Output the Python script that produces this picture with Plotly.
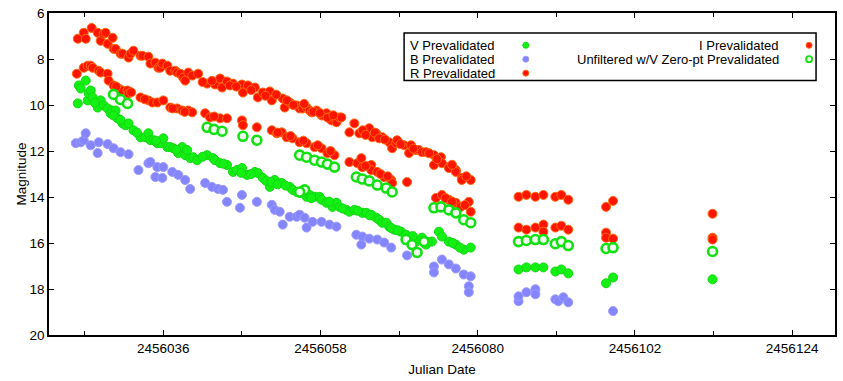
import plotly.graph_objects as go

# ---------------- data (Julian Date, magnitude) ----------------
r_jd = [2456024.03, 2456024.86, 2456025.14, 2456025.97, 2456026.81, 2456027.23, 2456027.65, 2456027.92,
        2456028.20, 2456028.90, 2456029.04, 2456029.32, 2456030.01, 2456030.29, 2456031.13, 2456031.41,
        2456031.82, 2456032.80, 2456033.08, 2456033.91, 2456034.19, 2456034.89, 2456035.30, 2456035.58,
        2456035.86, 2456036.56, 2456036.97, 2456037.67, 2456037.95, 2456038.37, 2456038.78, 2456039.06,
        2456039.48, 2456040.04, 2456040.87, 2456042.13, 2456043.24, 2456043.94, 2456044.22, 2456044.91,
        2456045.75, 2456047.00, 2456047.14, 2456047.84, 2456048.81, 2456049.23, 2456049.92, 2456050.90,
        2456051.18, 2456052.71, 2456052.99, 2456053.68, 2456054.66, 2456055.08, 2456055.49, 2456056.05,
        2456056.47, 2456056.75, 2456057.44, 2456058.14, 2456058.28, 2456058.83, 2456059.25, 2456059.53,
        2456060.23, 2456060.64, 2456060.92, 2456062.04, 2456062.73, 2456063.43, 2456064.82, 2456065.24,
        2456065.80, 2456066.63, 2456067.61, 2456068.02, 2456068.58, 2456068.72, 2456069.70, 2456070.39,
        2456070.67, 2456071.37, 2456071.78, 2456072.20, 2456072.76, 2456073.87, 2456073.87, 2456074.85,
        2456074.99, 2456075.96, 2456075.96, 2456076.94, 2456076.94, 2456077.77, 2456077.77, 2456079.02,
        2456041.50, 2456042.80, 2456045.30, 2456046.20, 2456048.30, 2456050.30, 2456051.80, 2456053.30,
        2456054.20, 2456055.70, 2456057.00, 2456057.90, 2456059.00, 2456059.80, 2456063.90, 2456064.30,
        2456065.60, 2456066.20, 2456067.00, 2456069.20, 2456071.00, 2456073.20, 2456074.30, 2456076.40,
        2456078.40,
        2456085.71, 2456086.81, 2456088.07, 2456089.19, 2456090.86, 2456091.70, 2456092.67, 2456097.96,
        2456098.94, 2456112.86]
r_mag = [7.12, 6.86, 7.12, 6.65, 6.86, 7.21, 6.91, 6.86,
         7.34, 7.08, 7.56, 7.56, 7.77, 7.77, 7.94, 7.77,
         7.64, 7.86, 7.86, 7.90, 8.20, 8.16, 8.38, 8.38,
         8.20, 8.29, 8.51, 8.51, 8.59, 8.64, 8.81, 8.94,
         8.59, 8.72, 8.64, 9.07, 9.11, 8.85, 9.24, 8.98,
         9.07, 9.11, 9.46, 9.15, 9.24, 9.67, 9.46, 9.41,
         9.80, 9.72, 10.11, 9.89, 10.02, 10.15, 10.15, 10.11,
         10.24, 10.32, 10.24, 10.45, 10.45, 10.36, 10.54, 10.67,
         10.75, 10.54, 10.54, 11.19, 10.80, 11.23, 11.01, 11.40,
         11.23, 11.40, 11.62, 11.88, 11.66, 11.53, 11.75, 12.09,
         11.75, 11.96, 11.96, 12.05, 12.05, 12.18, 12.61, 12.27,
         12.53, 12.70, 12.74, 12.83, 12.91, 13.17, 13.26, 13.26,
         9.00, 8.95, 9.15, 9.20, 9.35, 9.60, 9.55, 9.80,
         10.00, 9.95, 10.30, 10.35, 10.55, 10.45, 11.10, 11.30,
         11.20, 11.45, 11.50, 11.70, 11.90, 12.10, 12.35, 12.60,
         13.10,
         13.99, 13.91, 13.99, 13.91, 13.99, 13.91, 14.12, 14.43,
         14.17, 14.73]

i_jd = [2456023.89, 2456024.86, 2456025.42, 2456025.84, 2456026.11, 2456026.95, 2456027.23, 2456028.20,
        2456028.34, 2456029.04, 2456029.73, 2456030.29, 2456030.99, 2456031.13, 2456032.80, 2456033.91,
        2456034.47, 2456035.16, 2456036.00, 2456036.97, 2456037.95, 2456038.65, 2456039.48, 2456040.04,
        2456041.85, 2456042.54, 2456043.94, 2456044.91, 2456047.00, 2456047.14, 2456049.09, 2456051.18,
        2456051.87, 2456052.57, 2456053.27, 2456054.10, 2456055.08, 2456056.05, 2456057.16, 2456058.14,
        2456058.97, 2456059.95, 2456062.04, 2456063.15, 2456063.71, 2456063.85, 2456065.10, 2456065.10,
        2456065.94, 2456066.91, 2456067.89, 2456068.02, 2456070.11, 2456074.15, 2456074.99, 2456075.96,
        2456076.94, 2456077.63, 2456078.75, 2456079.02,
        2456029.40, 2456031.50, 2456033.40, 2456037.30, 2456039.00, 2456043.10, 2456052.00, 2456053.80,
        2456055.60, 2456057.60, 2456059.40, 2456064.30, 2456066.40, 2456067.40, 2456075.50, 2456076.40,
        2456078.20,
        2456085.71, 2456086.81, 2456088.07, 2456089.19, 2456089.19, 2456090.86, 2456091.70, 2456092.67,
        2456097.96, 2456097.96, 2456098.94, 2456112.86, 2456112.86]
i_mag = [8.64, 8.38, 8.29, 8.29, 8.38, 8.51, 8.59, 8.64,
         8.94, 9.15, 9.28, 9.37, 9.37, 9.50, 9.67, 9.80,
         9.89, 9.89, 9.80, 10.11, 10.15, 10.24, 10.24, 10.32,
         10.36, 10.54, 10.58, 10.58, 10.67, 10.88, 10.97, 11.10,
         11.23, 11.19, 11.40, 11.45, 11.62, 11.66, 11.83, 11.88,
         12.09, 12.18, 12.48, 12.53, 12.31, 12.70, 12.61, 12.83,
         12.91, 13.13, 13.26, 13.39, 13.35, 14.04, 13.91, 14.12,
         14.25, 14.43, 14.21, 14.64,
         9.20, 9.45, 9.75, 10.15, 10.30, 10.50, 11.20, 11.35,
         11.55, 11.75, 12.00, 12.65, 13.00, 13.10, 14.05, 14.20,
         14.35,
         15.33, 15.42, 15.33, 15.20, 15.51, 15.33, 15.25, 15.42,
         15.55, 15.77, 15.81, 15.77, 15.85]

v_jd = [2456024.03, 2456024.17, 2456024.44, 2456025.14, 2456025.42, 2456025.56, 2456025.84, 2456026.11,
        2456026.81, 2456027.23, 2456027.65, 2456028.20, 2456028.62, 2456028.90, 2456029.32, 2456029.59,
        2456030.29, 2456030.71, 2456031.13, 2456031.82, 2456032.80, 2456033.49, 2456033.91, 2456034.19,
        2456034.61, 2456035.16, 2456035.58, 2456036.00, 2456036.56, 2456036.97, 2456037.39, 2456038.09,
        2456038.65, 2456039.06, 2456039.34, 2456039.76, 2456040.18, 2456040.73, 2456042.13, 2456042.96,
        2456043.24, 2456043.94, 2456044.91, 2456045.75, 2456046.30, 2456047.00, 2456047.70, 2456048.81,
        2456049.23, 2456049.92, 2456050.90, 2456051.59, 2456052.57, 2456053.68, 2456054.10, 2456054.66,
        2456055.08, 2456055.49, 2456056.05, 2456056.47, 2456057.16, 2456057.86, 2456058.14, 2456058.83,
        2456059.67, 2456060.23, 2456060.64, 2456061.62, 2456062.04, 2456062.73, 2456063.85, 2456064.41,
        2456065.10, 2456065.80, 2456066.21, 2456066.63, 2456067.19, 2456067.61, 2456068.30, 2456069.28,
        2456069.97, 2456070.39, 2456071.37, 2456072.20, 2456072.76, 2456073.59, 2456074.57, 2456074.99,
        2456075.96, 2456076.94, 2456078.05, 2456079.02,
        2456026.40, 2456029.00, 2456030.00, 2456032.30, 2456035.00, 2456037.80, 2456041.50, 2456044.40,
        2456046.90, 2456048.30, 2456050.40, 2456051.10, 2456052.00, 2456053.10, 2456056.70, 2456059.20,
        2456061.10, 2456063.20, 2456064.90, 2456067.90, 2456068.80, 2456070.90, 2456073.00, 2456076.50,
        2456077.50,
        2456085.71, 2456086.81, 2456088.07, 2456089.19, 2456090.86, 2456091.70, 2456092.67, 2456097.96,
        2456098.94, 2456112.86]
v_mag = [9.93, 9.15, 9.28, 8.94, 9.80, 9.50, 9.37, 9.67,
         10.11, 9.80, 10.02, 10.15, 10.36, 10.24, 10.24, 10.58,
         10.80, 10.88, 10.80, 11.10, 11.40, 11.40, 11.23, 11.53,
         11.53, 11.66, 11.66, 11.45, 11.83, 11.83, 11.88, 12.09,
         11.83, 12.18, 11.96, 12.31, 12.27, 12.40, 12.18, 12.31,
         12.40, 12.53, 12.61, 12.91, 12.83, 12.74, 13.04, 12.91,
         12.96, 13.17, 13.56, 13.26, 13.39, 13.56, 13.69, 13.78,
         13.82, 13.82, 13.99, 13.91, 13.99, 13.99, 14.12, 14.25,
         14.43, 14.25, 14.43, 14.56, 14.64, 14.56, 14.69, 14.69,
         14.77, 14.90, 14.99, 15.12, 15.12, 15.29, 15.42, 15.51,
         15.64, 15.85, 15.94, 15.77, 16.07, 15.94, 15.51, 15.72,
         15.94, 16.07, 16.29, 16.20,
         9.90, 10.45, 10.65, 11.20, 11.55, 11.95, 12.25, 12.55,
         12.95, 13.00, 13.30, 13.35, 13.45, 13.50, 14.05, 14.20,
         14.50, 14.60, 14.80, 15.35, 15.45, 15.70, 15.95, 16.00,
         16.20,
         17.15, 17.06, 17.06, 17.06, 17.24, 17.15, 17.32, 17.75,
         17.50, 17.58]

b_jd = [2456023.75, 2456024.44, 2456024.86, 2456025.14, 2456025.84, 2456026.81, 2456026.95, 2456028.20,
        2456029.04, 2456030.01, 2456031.13, 2456032.52, 2456033.91, 2456034.19, 2456034.89, 2456035.16,
        2456035.86, 2456036.00, 2456037.25, 2456038.09, 2456039.06, 2456039.76, 2456041.85, 2456042.82,
        2456043.66, 2456044.35, 2456044.91, 2456046.72, 2456047.00, 2456049.09, 2456051.18, 2456051.59,
        2456052.29, 2456052.71, 2456053.68, 2456054.66, 2456055.08, 2456055.77, 2456056.05, 2456056.89,
        2456058.14, 2456059.25, 2456060.23, 2456063.01, 2456063.71, 2456063.85, 2456064.82, 2456065.94,
        2456066.91, 2456067.89, 2456070.11, 2456073.87, 2456073.87, 2456074.99, 2456075.96, 2456076.94,
        2456078.05, 2456079.02, 2456078.75, 2456078.75,
        2456085.71, 2456085.71, 2456086.81, 2456088.07, 2456088.07, 2456090.86, 2456091.28, 2456091.98,
        2456092.67, 2456098.94]
b_mag = [11.66, 11.62, 11.53, 11.23, 11.75, 12.09, 11.62, 11.70,
         11.88, 12.05, 12.14, 12.83, 12.53, 12.48, 13.13, 12.70,
         13.17, 12.70, 12.91, 13.04, 13.26, 13.65, 13.39, 13.56,
         13.65, 13.69, 14.21, 14.47, 13.91, 14.21, 14.34, 14.56,
         14.64, 15.20, 14.86, 14.86, 14.77, 14.90, 15.33, 15.08,
         15.08, 15.20, 15.29, 15.64, 16.07, 15.72, 15.81, 15.85,
         15.98, 16.20, 16.54, 17.02, 17.28, 16.72, 16.93, 17.11,
         17.37, 17.45, 17.88, 18.14,
         18.53, 18.32, 18.14, 18.01, 18.23, 18.45, 18.53, 18.36,
         18.58, 18.96]

cv_jd = [2456029.04, 2456030.01, 2456030.99, 2456042.13, 2456043.10, 2456044.22, 2456047.14, 2456049.09,
         2456055.08, 2456055.77, 2456056.05, 2456057.16, 2456058.14, 2456058.97, 2456059.95, 2456055.08,
         2456063.01, 2456063.85, 2456064.82, 2456065.94, 2456067.19, 2456068.02, 2456069.97, 2456070.81,
         2456071.51, 2456072.48, 2456073.87, 2456074.85, 2456075.96, 2456076.94, 2456078.05, 2456079.02,
         2456085.71, 2456086.81, 2456088.07, 2456089.19, 2456090.86, 2456091.70, 2456092.67, 2456097.96,
         2456098.94, 2456112.86]
cv_mag = [9.54, 9.76, 9.93, 10.97, 11.06, 11.14, 11.36, 11.53,
          12.18, 13.69, 12.27, 12.40, 12.48, 12.57, 12.70, 13.78,
          13.13, 13.22, 13.30, 13.48, 13.61, 13.78, 15.85, 16.07,
          16.41, 15.94, 14.47, 14.43, 14.56, 14.69, 14.99, 15.12,
          15.94, 15.89, 15.85, 15.85, 16.03, 15.94, 16.11, 16.24,
          16.20, 16.37]

x_ticks = [2456036, 2456058, 2456080, 2456102, 2456124]
y_ticks = [6, 8, 10, 12, 14, 16, 18, 20]

legend_left = ["V Prevalidated", "B Prevalidated", "R Prevalidated"]
legend_right = ["I Prevalidated", "Unfiltered w/V Zero-pt Prevalidated"]

# ---------------- styles ----------------
RED, RED_EDGE = "#ff1400", "#ff6a10"
GREEN, GREEN_EDGE = "#14f014", "#10d810"
BLUE, BLUE_EDGE = "#8585ff", "#9a9aff"
FONT = "Liberation Sans, Arial, sans-serif"
MS = 9

fig = go.Figure()

def add(xs, ys, fill, edge, lw=1):
    fig.add_trace(go.Scatter(x=xs, y=ys, mode="markers", showlegend=False,
                             marker=dict(size=MS, color=fill, line=dict(color=edge, width=lw)),
                             hoverinfo="x+y"))

add(v_jd, v_mag, GREEN, GREEN_EDGE)
add(b_jd, b_mag, BLUE, BLUE_EDGE)
add(r_jd, r_mag, RED, RED_EDGE)
add(i_jd, i_mag, RED, RED_EDGE)
add(cv_jd, cv_mag, "#f0fff0", "#12e012", lw=2.6)

# ---------------- custom legend (gnuplot style: text then symbol) ----------------
L, R_, T, B = 49, 6, 12, 45
W, H = 843, 381
pw, ph = W - L - R_, H - T - B

def px2x(px):
    return (px - L) / pw

def py2y(py):
    return (H - B - py) / ph

shapes = [dict(type="rect", xref="paper", yref="paper",
               x0=px2x(405), x1=px2x(818), y0=py2y(80), y1=py2y(32),
               line=dict(color="black", width=1.5), fillcolor="white", layer="above")]
annotations = []
rows = [44.5, 58.5, 72.5]
LEG_FS = 13
left_cols = [(GREEN, GREEN_EDGE), (BLUE, BLUE_EDGE), (RED, RED_EDGE)]
for k, txt in enumerate(legend_left):
    annotations.append(dict(text=txt, xref="paper", yref="paper", x=px2x(410), y=py2y(rows[k]),
                            xanchor="left", yanchor="middle", showarrow=False, borderpad=0,
                            font=dict(family=FONT, size=LEG_FS, color="black")))
    f, e = left_cols[k]
    shapes.append(dict(type="circle", xref="paper", yref="paper", xsizemode="pixel", ysizemode="pixel",
                       xanchor=px2x(527), yanchor=py2y(rows[k]), x0=-3, x1=3, y0=-3, y1=3,
                       fillcolor=f, line=dict(color=e, width=1), layer="above"))
right_cols = [(RED, RED_EDGE, 1), ("#f0fff0", "#12e012", 1.8)]
for k, txt in enumerate(legend_right):
    annotations.append(dict(text=txt, xref="paper", yref="paper", x=px2x(782), y=py2y(rows[k]),
                            xanchor="right", yanchor="middle", showarrow=False, borderpad=0,
                            font=dict(family=FONT, size=LEG_FS, color="black")))
    f, e, w = right_cols[k]
    shapes.append(dict(type="circle", xref="paper", yref="paper", xsizemode="pixel", ysizemode="pixel",
                       xanchor=px2x(811), yanchor=py2y(rows[k]), x0=-3, x1=3, y0=-3, y1=3,
                       fillcolor=f, line=dict(color=e, width=w), layer="above"))

axis_common = dict(showline=True, linecolor="black", linewidth=1.5, mirror="allticks",
                   ticks="inside", ticklen=5, tickwidth=1.2, tickcolor="black",
                   showgrid=False, zeroline=False,
                   tickfont=dict(family=FONT, size=13.5, color="black"))

fig.update_layout(
    width=W, height=H,
    margin=dict(l=L, r=R_, t=T, b=B, pad=0),
    paper_bgcolor="white", plot_bgcolor="white",
    font=dict(family=FONT, size=13.5, color="black"),
    shapes=shapes, annotations=annotations,
    xaxis=dict(range=[2456020, 2456130], tickvals=x_ticks, ticktext=[str(t) for t in x_ticks],
               minor=dict(ticks="inside", ticklen=4, tickwidth=1.2, tickcolor="black",
                          tick0=2456025, dtick=11, showgrid=False),
               title=dict(text="Julian Date", font=dict(family=FONT, size=13.5), standoff=10),
               **axis_common),
    yaxis=dict(range=[20, 6], tickvals=y_ticks, ticktext=[str(t) for t in y_ticks],
               title=dict(text="Magnitude", font=dict(family=FONT, size=13.5), standoff=0),
               **axis_common),
)

fig.write_html("out.html")
